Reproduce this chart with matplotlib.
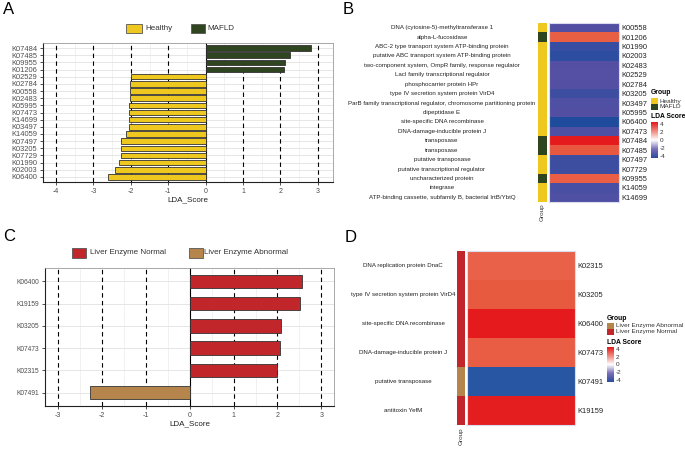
import numpy as np
import matplotlib
matplotlib.use('Agg')
import matplotlib.pyplot as plt
import matplotlib.transforms as mtransforms
from matplotlib.colors import LinearSegmentedColormap, ListedColormap, Normalize
from matplotlib.patches import Rectangle

plt.rcParams['font.family'] = ['Liberation Sans', 'DejaVu Sans']

# ---- data ----
# A: LDA scores, Healthy vs MAFLD (top to bottom)
a_ids = ['K07484', 'K07485', 'K09955', 'K01206', 'K02529', 'K02784', 'K00558',
         'K02483', 'K05995', 'K07473', 'K14699', 'K03497', 'K14059', 'K07497',
         'K03205', 'K07729', 'K01990', 'K02003', 'K06400']
a_scores = [2.82, 2.27, 2.12, 2.11, -2.00, -2.01, -2.03, -2.02, -2.04, -2.05,
            -2.05, -2.05, -2.13, -2.25, -2.25, -2.25, -2.32, -2.42, -2.62]
a_groups = ['MAFLD'] * 4 + ['Healthy'] * 15

# B: heatmap rows (top to bottom)
b_ids = ['K00558', 'K01206', 'K01990', 'K02003', 'K02483', 'K02529', 'K02784',
         'K03205', 'K03497', 'K05995', 'K06400', 'K07473', 'K07484', 'K07485',
         'K07497', 'K07729', 'K09955', 'K14059', 'K14699']
b_desc = ['DNA (cytosine-5)-methyltransferase 1',
          'alpha-L-fucosidase',
          'ABC-2 type transport system ATP-binding protein',
          'putative ABC transport system ATP-binding protein',
          'two-component system, OmpR family, response regulator',
          'LacI family transcriptional regulator',
          'phosphocarrier protein HPr',
          'type IV secretion system protein VirD4',
          'ParB family transcriptional regulator, chromosome partitioning protein',
          'dipeptidase E',
          'site-specific DNA recombinase',
          'DNA-damage-inducible protein J',
          'transposase',
          'transposase',
          'putative transposase',
          'putative transcriptional regulator',
          'uncharacterized protein',
          'integrase',
          'ATP-binding cassette, subfamily B, bacterial IrtB/YbtQ']

# C: LDA scores, liver enzyme normal vs abnormal
c_ids = ['K06400', 'K19159', 'K03205', 'K07473', 'K02315', 'K07491']
c_scores = [2.57, 2.52, 2.08, 2.05, 2.00, -2.28]
c_groups = ['Liver Enzyme Normal'] * 5 + ['Liver Enzyme Abnormal']

# D: heatmap rows
d_ids = ['K02315', 'K03205', 'K06400', 'K07473', 'K07491', 'K19159']
d_desc = ['DNA replication protein DnaC',
          'type IV secretion system protein VirD4',
          'site-specific DNA recombinase',
          'DNA-damage-inducible protein J',
          'putative transposase',
          'antitoxin YefM']

ab_colors = {'Healthy': '#EFC81F', 'MAFLD': '#2F4520'}
cd_colors = {'Liver Enzyme Abnormal': '#B5854B', 'Liver Enzyme Normal': '#C0262A'}

a_lookup = dict(zip(a_ids, a_scores))
b_scores = [a_lookup[k] for k in b_ids]
b_groups = [a_groups[a_ids.index(k)] for k in b_ids]
c_lookup = dict(zip(c_ids, c_scores))
d_scores = [c_lookup[k] for k in d_ids]
d_groups = [c_groups[c_ids.index(k)] for k in d_ids]

W, H = 685, 449
fig = plt.figure(figsize=(W / 100, H / 100), dpi=100)


def px_axes(x0, y0, x1, y1):
    return fig.add_axes([x0 / W, 1 - y1 / H, (x1 - x0) / W, (y1 - y0) / H])


def fig_text(x, y, s, **kw):
    kw.setdefault('va', 'center')
    fig.text(x / W, 1 - y / H, s, **kw)


def key(x, y, w, h, color, edge='none'):
    fig.patches.append(Rectangle((x / W, 1 - (y + h) / H), w / W, h / H,
                                 transform=fig.transFigure, facecolor=color,
                                 edgecolor=edge, lw=0.6))


def value_cmap(nodes):
    lo, hi = nodes[0][0], nodes[-1][0]
    pts = [((v - lo) / (hi - lo), c) for v, c in nodes]
    return LinearSegmentedColormap.from_list('lda', pts), Normalize(lo, hi)


def lda_bars(ax, ids, scores, groups, colors, xlim, ticks, pad, height, fs):
    n = len(ids)
    y = np.arange(n)
    for v in np.arange(ticks[0] - 0.5, ticks[-1] + 1, 1):
        ax.axvline(v, color='#ececec', lw=0.5, zorder=0)
    for yy in y:
        ax.axhline(yy, color='#e6e6e6', lw=0.7, zorder=0)
    for t in ticks:
        ax.axvline(t, color='black', lw=0.8, ls='-' if t == 0 else (0, (4, 3)), zorder=1)
    ax.barh(y, scores, height=height, color=[colors[g] for g in groups],
            edgecolor='#333333', lw=0.6, zorder=2)
    ax.set_yticks(y, ids)
    ax.set_ylim(n - 1 + pad, -pad)
    ax.set_xlim(xlim)
    ax.set_xticks(ticks, [str(t) for t in ticks])
    ax.tick_params(labelsize=fs, colors='#333333', labelcolor='#4d4d4d',
                   length=2.5, width=0.6, pad=1.5)
    ax.tick_params(axis='x', labelsize=5)
    ax.set_xlabel('LDA_Score', fontsize=5.8, color='#222222', labelpad=1.5)
    for s in ['top', 'right']:
        ax.spines[s].set_color('#9a9a9a')
        ax.spines[s].set_linewidth(0.6)
    for s in ['left', 'bottom']:
        ax.spines[s].set_color('#222222')
        ax.spines[s].set_linewidth(0.8)


def heat(ax_g, ax_h, ids, descs, scores, groups, gcolors, cmap, norm, desc_x):
    n = len(ids)
    ax_h.imshow(np.array(scores)[:, None], cmap=cmap, norm=norm,
                aspect='auto', interpolation='nearest')
    names = list(gcolors)
    ax_g.imshow(np.array([names.index(g) for g in groups])[:, None],
                cmap=ListedColormap([gcolors[k] for k in names]),
                vmin=-0.5, vmax=len(names) - 0.5, aspect='auto', interpolation='nearest')
    ax_h.yaxis.tick_right()
    ax_h.set_yticks(range(n), ids, fontsize=5.4)
    ax_h.tick_params(length=0, pad=2, labelcolor='#222222')
    ax_h.set_xticks([])
    for s in ax_h.spines.values():
        s.set_color('#dcdcf0')
        s.set_linewidth(0.8)
    ax_g.set_xticks([])
    ax_g.set_yticks([])
    for s in ax_g.spines.values():
        s.set_visible(False)
    trans = mtransforms.blended_transform_factory(fig.transFigure, ax_h.transData)
    for i, d in enumerate(descs):
        ax_h.text(desc_x / W, i, d, transform=trans, ha='center', va='center',
                  fontsize=4.45, color='#222222')


leg_cmap = LinearSegmentedColormap.from_list(
    'leg', ['#2C4C9F', '#7B70B8', '#ffffff', '#F08A80', '#E41A1C'])


def heat_legend(x, y, gcolors, cb_top, cb_bot):
    fig_text(x, y, 'Group', fontsize=4.9, fontweight='bold')
    yy = y + 5
    for name, col in gcolors.items():
        key(x, yy, 7, 6, col)
        fig_text(x + 9, yy + 3, name, fontsize=4.6, color='#333333')
        yy += 6
    fig_text(x, cb_top - 5, 'LDA Score', fontsize=4.9, fontweight='bold')
    cax = px_axes(x, cb_top, x + 7, cb_bot)
    cax.imshow(np.linspace(4.6, -4.6, 100)[:, None], cmap=leg_cmap, vmin=-4.6, vmax=4.6,
               aspect='auto', extent=(0, 1, -4.6, 4.6))
    cax.set_ylim(-4.6, 4.6)
    cax.set_xticks([])
    cax.yaxis.tick_right()
    cax.set_yticks([4, 2, 0, -2, -4], ['4', '2', '0', '-2', '-4'], fontsize=4.6)
    cax.tick_params(length=0, pad=1.5, labelcolor='#333333')
    for s in cax.spines.values():
        s.set_visible(False)


# ---- panel A ----
axA = px_axes(43, 43, 333, 182)
lda_bars(axA, a_ids, a_scores, a_groups, ab_colors, (-4.35, 3.41),
         [-4, -3, -2, -1, 0, 1, 2, 3], 0.7, 0.75, 5.4)
key(126, 23.5, 16, 9, ab_colors['Healthy'], '#555555')
fig_text(145, 28, 'Healthy', fontsize=5.8, color='#333333')
key(191, 23.5, 14, 9, ab_colors['MAFLD'], '#555555')
fig_text(207, 28, 'MAFLD', fontsize=5.8, color='#333333')

# ---- panel B ----
b_cmap, b_norm = value_cmap([(-2.7, '#1C4B9B'), (-2.45, '#2B4DA0'), (-2.0, '#5650A4'),
                             (0, '#ffffff'), (2.0, '#EA6448'), (2.3, '#E8573F'),
                             (2.6, '#E41A1C'), (2.9, '#E41A1C')])
axBg = px_axes(538, 23, 547, 202)
axBh = px_axes(549, 23, 619, 202)
heat(axBg, axBh, b_ids, b_desc, b_scores, b_groups, ab_colors, b_cmap, b_norm, 442)
fig_text(542, 212, 'Group', fontsize=4.6, rotation=90, ha='center', color='#333333')
heat_legend(651, 93, ab_colors, 122, 158)

# ---- panel C ----
axC = px_axes(45, 268, 334, 406)
lda_bars(axC, c_ids, c_scores, c_groups, cd_colors, (-3.30, 3.29),
         [-3, -2, -1, 0, 1, 2, 3], 0.6, 0.6, 4.8)
key(72, 248, 14, 10, cd_colors['Liver Enzyme Normal'], '#555555')
fig_text(90, 253, 'Liver Enzyme Normal', fontsize=5.8, color='#333333')
key(189, 248, 14, 10, cd_colors['Liver Enzyme Abnormal'], '#555555')
fig_text(204, 253, 'Liver Enzyme Abnormal', fontsize=5.8, color='#333333')

# ---- panel D ----
d_cmap, d_norm = value_cmap([(-2.4, '#1F4E9E'), (0, '#ffffff'), (2.0, '#E9624A'),
                             (2.1, '#E85A40'), (2.5, '#E41E1F'), (2.6, '#E41A1C')])
axDg = px_axes(457, 251, 465, 425)
axDh = px_axes(467, 251, 575, 425)
heat(axDg, axDh, d_ids, d_desc, d_scores, d_groups, cd_colors, d_cmap, d_norm, 403)
fig_text(461, 436, 'Group', fontsize=4.6, rotation=90, ha='center', color='#333333')
heat_legend(607, 318, cd_colors, 347, 382)

# panel letters
for lab, x, y in [('A', 3, 9), ('B', 343, 9), ('C', 3, 237), ('D', 345, 238)]:
    fig_text(x, y, lab, fontsize=12)

fig.savefig('out.png', dpi=100)
